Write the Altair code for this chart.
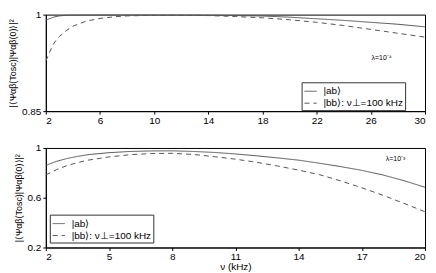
import altair as alt
import pandas as pd

# ---- data ----
SERIES = ["|ab⟩", "|bb⟩: ν⊥=100 kHz"]

nu_top = [2, 2.25, 2.5, 2.75, 3, 3.5, 4, 5, 6, 7, 8, 10, 12, 14, 16, 18, 20, 22, 24, 26, 28, 30]
ab_top = [0.991, 0.9935, 0.9955, 0.997, 0.998, 0.999, 0.9995, 0.9998, 0.9999, 1.0, 1.0, 1.0, 0.9997,
          0.9992, 0.9985, 0.9978, 0.996, 0.9935, 0.991, 0.988, 0.985, 0.981]
bb_top = [0.928, 0.94, 0.952, 0.96, 0.966, 0.975, 0.982, 0.990, 0.994, 0.9965, 0.998, 0.999, 0.999,
          0.9985, 0.997, 0.995, 0.992, 0.988, 0.983, 0.977, 0.971, 0.965]

nu_bot = [2, 2.5, 3, 3.5, 4, 5, 6, 7, 8, 9, 10, 11, 12, 13, 14, 15, 16, 17, 18, 19, 20]
ab_bot = [0.860, 0.892, 0.915, 0.932, 0.946, 0.962, 0.972, 0.976, 0.977, 0.972, 0.964, 0.952, 0.937,
          0.920, 0.902, 0.877, 0.850, 0.820, 0.783, 0.737, 0.684]
bb_bot = [0.783, 0.825, 0.858, 0.882, 0.902, 0.928, 0.946, 0.955, 0.957, 0.948, 0.930, 0.910, 0.885,
          0.855, 0.822, 0.785, 0.735, 0.680, 0.620, 0.555, 0.487]

xticks_top = [2, 6, 10, 14, 18, 22, 26, 30]
yticks_top = [0.85, 0.9, 0.95, 1]
xticks_bot = [2, 5, 8, 11, 14, 17, 20]
yticks_bot = [0.2, 0.6, 1]

lam_top = {"nu": [26.8], "val": [0.933], "txt": ["λ=10⁻⁴"]}
lam_bot = {"nu": [18.6], "val": [0.915], "txt": ["λ=10⁻³"]}

YTITLE = "|⟨Ψαβ(Tosc)|Ψαβ(0)⟩|²"
FONT = "Liberation Sans"


def make_df(nu, ab, bb):
    return pd.DataFrame({
        "nu": list(nu) + list(nu),
        "val": list(ab) + list(bb),
        "series": [SERIES[0]] * len(nu) + [SERIES[1]] * len(nu),
    })


def panel(df, lam, xdom, xticks, ydom, yticks, xtitle, lx, ly, h):
    lines = alt.Chart(df).mark_line(strokeWidth=1, color="#555555", clip=True).encode(
        x=alt.X("nu:Q", scale=alt.Scale(domain=xdom, nice=False, zero=False),
                axis=alt.Axis(values=xticks, title=xtitle, format="~g", labelOverlap=False)),
        y=alt.Y("val:Q", scale=alt.Scale(domain=ydom, nice=False, zero=False),
                axis=alt.Axis(values=yticks, title=YTITLE, format="~g", labelOverlap=False)),
        strokeDash=alt.StrokeDash(
            "series:N",
            scale=alt.Scale(domain=SERIES, range=[[1, 0], [5, 4]]),
            legend=alt.Legend(title=None, orient="none", legendX=lx, legendY=ly,
                              strokeColor="#333333", fillColor="white", padding=2,
                              symbolType="stroke", symbolSize=150, symbolStrokeColor="#555555",
                              symbolStrokeWidth=1, labelFontSize=10, labelFont=FONT,
                              labelColor="black", rowPadding=0, offset=0, labelOffset=6),
        ),
    )
    txt = alt.Chart(pd.DataFrame(lam)).mark_text(fontSize=7, font=FONT, color="black").encode(
        x="nu:Q", y="val:Q", text="txt:N")
    return alt.layer(lines, txt).properties(width=381, height=h)


top = panel(make_df(nu_top, ab_top, bb_top), lam_top, [2, 30], xticks_top, [0.85, 1.0],
            yticks_top, None, 257, 68, 97)
bot = panel(make_df(nu_bot, ab_bot, bb_bot), lam_bot, [2, 20], xticks_bot, [0.2, 1.0],
            yticks_bot, "ν (kHz)", 4, 67, 100)

chart = alt.vconcat(top, bot, spacing=16).resolve_legend(strokeDash="independent").properties(
    padding={"left": 0, "top": 0, "right": 2, "bottom": 0}
).configure_view(stroke="black", strokeWidth=1).configure_axis(
    grid=False, domainColor="black", tickColor="black", tickSize=3,
    labelFont=FONT, labelFontSize=10, labelColor="black", labelPadding=2,
    titleFont=FONT, titleFontSize=9, titleFontWeight="normal", titleColor="black",
    titlePadding=4,
).configure_axisX(titleFontSize=10, titlePadding=0, labelPadding=1)

chart.save("out.html", embed_options={"renderer": "svg", "actions": False})
